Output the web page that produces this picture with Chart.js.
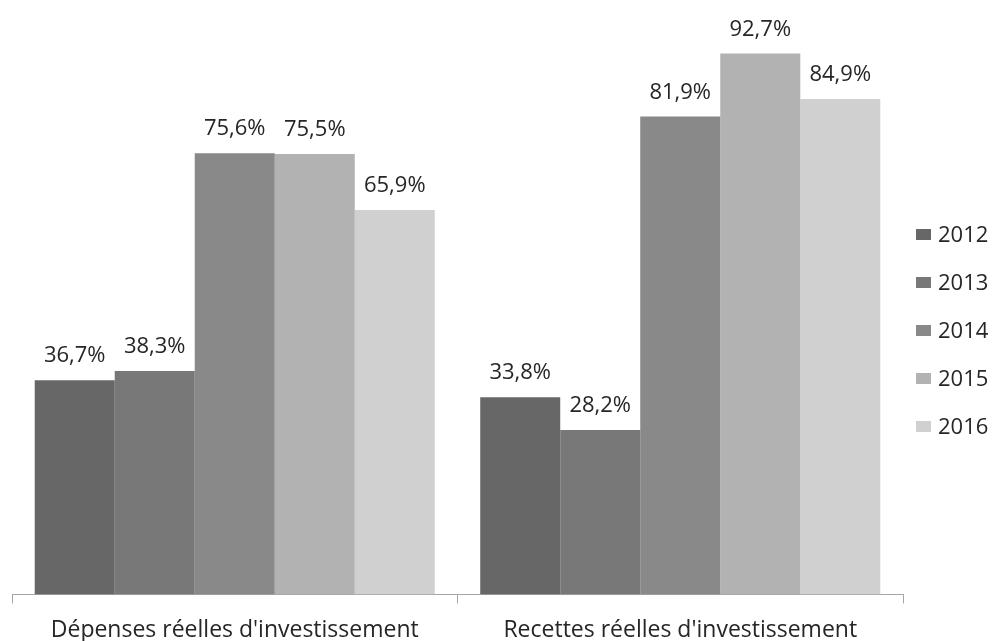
<!DOCTYPE html>
<html>
<head>
<meta charset="utf-8">
<script src="https://cdn.jsdelivr.net/npm/chart.js@4.4.1/dist/chart.umd.min.js"></script>
<style>
  html, body { margin: 0; padding: 0; background: #ffffff; }
  #wrap { width: 994px; height: 641px; position: relative; }
</style>
</head>
<body>
<div id="wrap"><canvas id="c"></canvas></div>
<script>
// Taux de réalisation des sections d'investissement, 2012-2016
const categories = ["Dépenses réelles d'investissement", "Recettes réelles d'investissement"];
const years = ['2012', '2013', '2014', '2015', '2016'];
const values2012 = [36.7, 33.8];
const values2013 = [38.3, 28.2];
const values2014 = [75.6, 81.9];
const values2015 = [75.5, 92.7];
const values2016 = [65.9, 84.9];

const seriesValues = [values2012, values2013, values2014, values2015, values2016];
const yearColors = ['#676767', '#787878', '#898989', '#b2b2b2', '#d0d0d0'];
const FONT = "'Open Sans', sans-serif";
const TEXT_COLOR = '#262626';

const fmtPct = v => v.toFixed(1).replace('.', ',') + '%';

// Percent labels above each bar
const valueLabels = {
  id: 'valueLabels',
  afterDatasetsDraw(chart) {
    const ctx = chart.ctx;
    ctx.save();
    ctx.font = '22px ' + FONT;
    ctx.fillStyle = TEXT_COLOR;
    ctx.textAlign = 'center';
    ctx.textBaseline = 'alphabetic';
    chart.data.datasets.forEach((ds, di) => {
      chart.getDatasetMeta(di).data.forEach((bar, i) => {
        ctx.fillText(fmtPct(ds.data[i]), bar.x, bar.y - 18);
      });
    });
    ctx.restore();
  }
};

// Year legend stacked on the right of the plot
const sideLegend = {
  id: 'sideLegend',
  afterDraw(chart) {
    const ctx = chart.ctx;
    const area = chart.chartArea;
    const step = 48;
    const n = chart.data.datasets.length;
    const firstY = chart.height / 2 + 10 - step * (n - 1) / 2;
    const boxX = area.right + 13;
    ctx.save();
    ctx.font = '22px ' + FONT;
    ctx.textBaseline = 'middle';
    ctx.textAlign = 'left';
    chart.data.datasets.forEach((ds, i) => {
      const cy = firstY + i * step;
      ctx.fillStyle = ds.backgroundColor;
      ctx.fillRect(boxX, cy - 5.5, 15, 11);
      ctx.fillStyle = TEXT_COLOR;
      ctx.fillText(ds.label, boxX + 22, cy + 1);
    });
    ctx.restore();
  }
};

new Chart(document.getElementById('c'), {
  type: 'bar',
  data: {
    labels: categories,
    datasets: years.map((y, i) => ({
      label: y,
      data: seriesValues[i],
      backgroundColor: yearColors[i],
      borderWidth: 0,
      categoryPercentage: 0.898,
      barPercentage: 1
    }))
  },
  options: {
    responsive: true,
    maintainAspectRatio: false,
    animation: false,
    layout: { padding: { top: 11, left: 12, right: 91, bottom: -16 } },
    plugins: {
      legend: { display: false },
      tooltip: { enabled: false }
    },
    scales: {
      x: {
        grid: {
          display: true,
          drawOnChartArea: false,
          drawTicks: true,
          tickLength: 9,
          color: '#a6a6a6',
          offset: true
        },
        border: { display: true, color: '#a6a6a6', width: 1 },
        ticks: {
          font: { family: FONT, size: 23 },
          color: TEXT_COLOR,
          padding: 13,
          maxRotation: 0,
          autoSkip: false
        }
      },
      y: { display: false, min: 0, max: 100 }
    }
  },
  plugins: [valueLabels, sideLegend]
});
</script>
</body>
</html>
